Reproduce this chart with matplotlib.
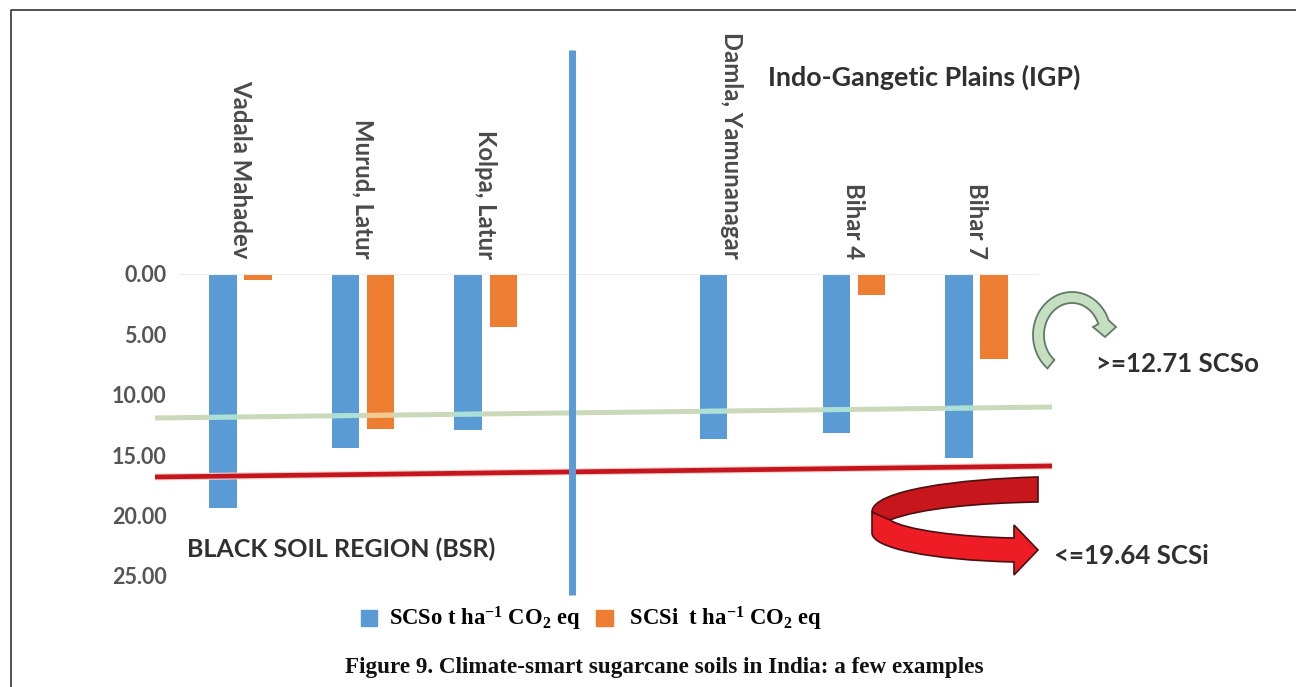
import numpy as np
import matplotlib
matplotlib.use('Agg')
import matplotlib.pyplot as plt
from matplotlib.patches import Patch, PathPatch, Polygon
from matplotlib.path import Path
from matplotlib.transforms import ScaledTranslation

plt.rcParams['mathtext.fontset'] = 'custom'
plt.rcParams['mathtext.rm'] = 'Liberation Serif:bold'
plt.rcParams['mathtext.it'] = 'Liberation Serif:bold'
plt.rcParams['mathtext.bf'] = 'Liberation Serif:bold'

W, H = 1296, 687

sites = ['Vadala Mahadev', 'Murud, Latur', 'Kolpa, Latur', '',
         'Damla, Yamunanagar', 'Bihar 4', 'Bihar 7']
scso = [19.4, 14.4, 12.9, 0, 13.7, 13.2, 15.2]
scsi = [0.5, 12.8, 4.4, 0, 0, 1.7, 7.0]
yticks = [0, 5, 10, 15, 20, 25]

BLUE = '#5b9bd5'
ORANGE = '#ed7d31'

fig = plt.figure(figsize=(W / 100, H / 100), dpi=100)

# chart axes: 0 at y=274px, 25 at y=576px
left, right, top, bottom = 179, 1038, 274, 576
ax = fig.add_axes([left / W, 1 - bottom / H, (right - left) / W, (bottom - top) / H], zorder=2)
ax.patch.set_alpha(0)

# overlay in pixel coordinates, for the hand drawn shapes of the original
ov = fig.add_axes([0, 0, 1, 1], zorder=3)
ov.set_xlim(0, W)
ov.set_ylim(H, 0)
ov.axis('off')
ov.patch.set_alpha(0)

x = np.arange(len(sites))
w = 0.225
bars_o = ax.bar(x - 0.143, scso, w, color=BLUE, label='SCSo')
bars_i = ax.bar(x + 0.143, scsi, w, color=ORANGE, label='SCSi')
ax.set_xlim(-0.5, 6.5)
ax.set_ylim(25, 0)

for s in ['left', 'right', 'bottom']:
    ax.spines[s].set_visible(False)
ax.spines['top'].set_color('#eeeeee')

ax.xaxis.tick_top()
ax.set_xticks(x)
ax.set_xticklabels(sites, rotation=270, ha='center', va='bottom',
                   family='Lato', fontsize=17.2, color='#4a4a4a', fontweight='bold')
nudge = ScaledTranslation(-2 / 100, 0, fig.dpi_scale_trans)
for lab in ax.get_xticklabels():
    lab.set_transform(lab.get_transform() + nudge)
ax.tick_params(axis='x', length=0, pad=11)
ax.set_yticks(yticks)
ax.set_yticklabels(['%.2f' % v for v in yticks], family='Lato', fontsize=15.5,
                   fontweight='bold', color='#555555')
nudge_y = ScaledTranslation(0, -1 / 100, fig.dpi_scale_trans)
for lab in ax.get_yticklabels():
    lab.set_transform(lab.get_transform() + nudge_y)
ax.tick_params(axis='y', length=0, pad=9)

# trend lines and divider, the green one looks washed out over the bars
ov.plot([155, 1052], [418, 407], color='#c9d9ba', lw=3.6, solid_capstyle='butt')
for bars, col in [(bars_o, '#a9e0d8'), (bars_i, '#f6c98e')]:
    for b in bars:
        ln, = ov.plot([155, 1052], [418, 407], color=col, lw=3.4, solid_capstyle='butt')
        ln.set_clip_path(b)
ov.plot([155, 1052], [477, 466], color='#f7cfc8', lw=5, solid_capstyle='butt')
ov.plot([155, 1052], [477, 466], color='#c5161f', lw=3.4, solid_capstyle='butt')
ov.plot([572, 572], [50, 595], color=BLUE, lw=5, solid_capstyle='butt')

# green curved arrow
t = np.radians(np.linspace(231, 20, 60))
outer = np.c_[1072 + 39 * np.cos(t), 335 - 43 * np.sin(t)]
inner = np.c_[1072 + 28 * np.cos(t), 335 - 32 * np.sin(t)]
head = [[1116, 327], [1105, 337], [1093, 327]]
ov.add_patch(Polygon(np.vstack([outer, head, inner[::-1]]), closed=True,
                     fc='#c5dfc0', ec='#5f7a66', lw=1.3))

# red curved arrow
back = Path([(1038, 477), (960, 479), (872, 490), (872, 512), (880, 518), (890, 520),
             (920, 508), (980, 503), (1038, 502), (1038, 477)],
            [1, 4, 4, 4, 2, 2, 4, 4, 4, 79])
front = Path([(872, 512), (872, 533), (872, 548), (930, 560), (1014, 562), (1014, 575),
              (1038, 550), (1014, 525), (1014, 538), (960, 537), (905, 530), (890, 520),
              (872, 512)],
             [1, 2, 4, 4, 4, 2, 2, 2, 2, 4, 4, 4, 79])
ov.add_patch(PathPatch(back, fc='#c8161d', ec='#4a1012', lw=1.2))
ov.add_patch(PathPatch(front, fc='#ee1c25', ec='#4a1012', lw=1.2))

# annotations
kw = dict(family='Lato', fontweight='bold', color='#303030', va='center')
ov.text(768, 77, 'Indo-Gangetic Plains (IGP)', fontsize=19.4, **kw)
ov.text(187, 549, 'BLACK SOIL REGION (BSR)', fontsize=18, **kw)
ov.text(1096, 364, '>=12.71 SCSo', fontsize=18.6, **kw)
ov.text(1054, 556, '<=19.64 SCSi', fontsize=18.6, **kw)

# legend
handles = [Patch(color=BLUE, label=r'SCSo t ha$^{\mathrm{-1}}$ CO$_{\mathrm{2}}$ eq'),
           Patch(color=ORANGE, label=r' SCSi  t ha$^{\mathrm{-1}}$ CO$_{\mathrm{2}}$ eq')]
ov.legend(handles=handles, ncol=2, loc='center left', bbox_to_anchor=(361, 619),
          bbox_transform=ov.transData, frameon=False, borderaxespad=0, borderpad=0,
          handlelength=0.72, handleheight=0.72, handletextpad=0.5, columnspacing=0.72,
          prop={'family': 'Liberation Serif', 'weight': 'bold', 'size': 16.3})

# caption and frame
ov.text(664, 667, 'Figure 9. Climate-smart sugarcane soils in India: a few examples',
        family='Liberation Serif', fontweight='bold', fontsize=16.7, color='#111111',
        ha='center', va='center')
ov.plot([11, 11, W], [H, 10, 10], color='#333333', lw=1.2)

fig.savefig('out.png', dpi=100)
